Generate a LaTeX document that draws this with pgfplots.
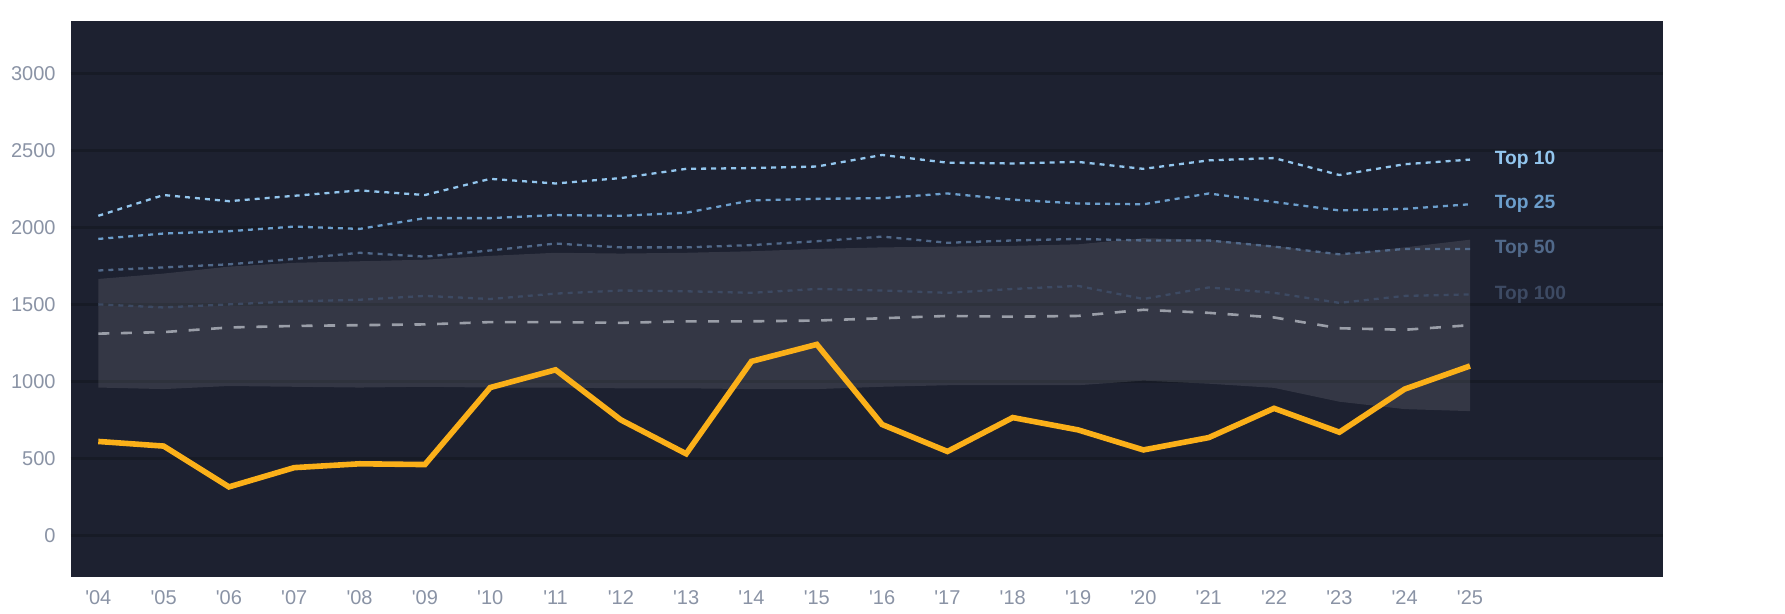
\documentclass[border=0pt]{standalone}
\usepackage{fontspec}
\setmainfont{Liberation Sans}
\usepackage{pgfplots}
\pgfplotsset{compat=1.18}
\usepgfplotslibrary{fillbetween}
\definecolor{bg}{HTML}{1D2130}
\definecolor{gridc}{HTML}{171B26}
\definecolor{tickc}{HTML}{8A93A5}
\definecolor{topten}{HTML}{93C6EE}
\definecolor{toptf}{HTML}{6C9ECC}
\definecolor{topfifty}{HTML}{51698A}
\definecolor{tophun}{HTML}{3D4A63}
\definecolor{medc}{HTML}{9A9EA8}
\definecolor{mainc}{HTML}{FBB019}
\begin{document}
\begin{tikzpicture}
\begin{axis}[
  at={(0,0)}, anchor=south west,
  scale only axis, width=795.85pt, height=278pt,
  xmin=-0.418, xmax=23.95, ymin=-270, ymax=3340,
  axis background/.style={fill=bg},
  axis line style={draw=none},
  major tick length=0pt,
  xtick={0,...,21},
  xticklabels={\textquotesingle04,\textquotesingle05,\textquotesingle06,\textquotesingle07,\textquotesingle08,\textquotesingle09,\textquotesingle10,\textquotesingle11,\textquotesingle12,\textquotesingle13,\textquotesingle14,\textquotesingle15,\textquotesingle16,\textquotesingle17,\textquotesingle18,\textquotesingle19,\textquotesingle20,\textquotesingle21,\textquotesingle22,\textquotesingle23,\textquotesingle24,\textquotesingle25},
  ytick={0,500,...,3000},
  ymajorgrids, grid style={line width=1.3pt, draw=gridc},
  tick label style={font=\fontsize{10}{11}\selectfont, text=tickc},
  /pgf/number format/assume math mode=true,
  /pgf/number format/1000 sep={},
  xticklabel style={anchor=north, inner sep=0pt, yshift=-6.5pt},
  yticklabel style={anchor=east, inner sep=0pt, xshift=-7.5pt},
  clip=false,
]
% band
\addplot[draw=none, name path=U, forget plot] coordinates {
(0,1665)(1,1700)(2,1745)(3,1770)(4,1780)(5,1790)(6,1815)(7,1835)(8,1830)(9,1835)(10,1845)
(11,1860)(12,1870)(13,1875)(14,1880)(15,1890)(16,1930)(17,1920)(18,1880)(19,1825)(20,1870)(21,1920)};
\addplot[draw=none, name path=L, forget plot] coordinates {
(0,960)(1,950)(2,970)(3,965)(4,960)(5,965)(6,960)(7,960)(8,955)(9,955)(10,950)
(11,950)(12,965)(13,975)(14,975)(15,975)(16,1005)(17,985)(18,958)(19,868)(20,820)(21,807)};
\addplot[fill=white, fill opacity=0.1, draw=none, forget plot] fill between[of=U and L];
% median dashed
\addplot[medc, line width=1.3pt, dash pattern=on 5.5pt off 5.8pt] coordinates {
(0,1310)(1,1320)(2,1350)(3,1360)(4,1365)(5,1370)(6,1385)(7,1385)(8,1380)(9,1390)(10,1390)
(11,1395)(12,1410)(13,1425)(14,1420)(15,1425)(16,1465)(17,1445)(18,1415)(19,1345)(20,1335)(21,1365)};
% Top 100
\addplot[tophun, line width=1.15pt, dash pattern=on 2.5pt off 2.5pt] coordinates {
(0,1500)(1,1480)(2,1500)(3,1520)(4,1530)(5,1555)(6,1535)(7,1570)(8,1590)(9,1585)(10,1575)
(11,1600)(12,1590)(13,1575)(14,1600)(15,1620)(16,1535)(17,1610)(18,1575)(19,1510)(20,1555)(21,1565)}
node[pos=1, anchor=west, xshift=8.5pt, font=\fontsize{9.6}{10}\selectfont\bfseries, text=tophun] {Top 100};
% Top 50
\addplot[topfifty, line width=1.15pt, dash pattern=on 2.5pt off 2.5pt] coordinates {
(0,1720)(1,1740)(2,1760)(3,1795)(4,1835)(5,1810)(6,1850)(7,1895)(8,1870)(9,1870)(10,1885)
(11,1910)(12,1940)(13,1900)(14,1915)(15,1925)(16,1915)(17,1915)(18,1875)(19,1825)(20,1860)(21,1860)}
node[pos=1, anchor=west, xshift=8.5pt, font=\fontsize{9.6}{10}\selectfont\bfseries, text=topfifty] {Top 50};
% Top 25
\addplot[toptf, line width=1.15pt, dash pattern=on 2.5pt off 2.5pt] coordinates {
(0,1925)(1,1960)(2,1975)(3,2005)(4,1990)(5,2060)(6,2060)(7,2080)(8,2075)(9,2095)(10,2175)
(11,2185)(12,2190)(13,2220)(14,2180)(15,2155)(16,2150)(17,2220)(18,2165)(19,2110)(20,2120)(21,2150)}
node[pos=1, anchor=west, xshift=8.5pt, font=\fontsize{9.6}{10}\selectfont\bfseries, text=toptf] {Top 25};
% Top 10
\addplot[topten, line width=1.15pt, dash pattern=on 2.5pt off 2.5pt] coordinates {
(0,2075)(1,2210)(2,2170)(3,2205)(4,2240)(5,2210)(6,2315)(7,2285)(8,2320)(9,2380)(10,2385)
(11,2395)(12,2470)(13,2420)(14,2415)(15,2425)(16,2380)(17,2435)(18,2450)(19,2340)(20,2410)(21,2440)}
node[pos=1, anchor=west, xshift=8.5pt, font=\fontsize{9.6}{10}\selectfont\bfseries, text=topten] {Top 10};
% main
\addplot[mainc, line width=2.8pt, line join=miter] coordinates {
(0,610)(1,580)(2,315)(3,440)(4,465)(5,460)(6,960)(7,1075)(8,750)(9,530)(10,1130)
(11,1240)(12,720)(13,545)(14,765)(15,685)(16,555)(17,635)(18,825)(19,670)(20,950)(21,1100)};
\end{axis}
\path (-35.5pt,-18.5pt) rectangle (857pt,288.5pt);
\end{tikzpicture}
\end{document}
